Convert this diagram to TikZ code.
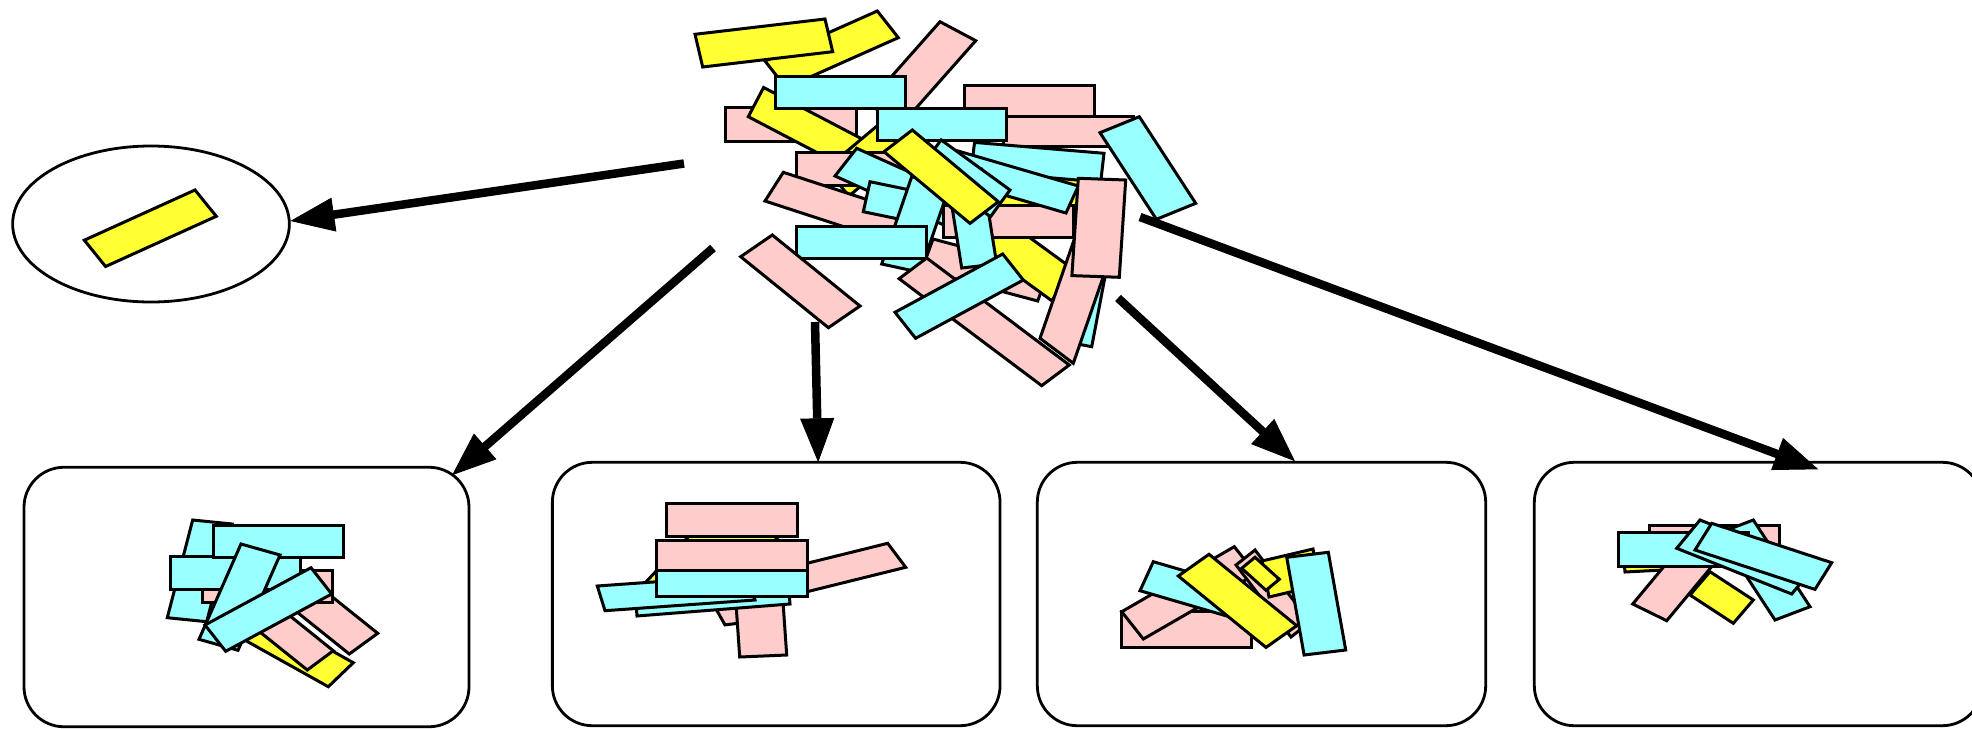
\documentclass[tikz,border=0pt]{standalone}
\usetikzlibrary{arrows.meta,calc,shapes.geometric}
\definecolor{pk}{HTML}{FFCCCC}
\definecolor{cy}{HTML}{99FFFF}
\definecolor{ye}{HTML}{FFFF33}
\tikzset{
  stk/.style={draw=black,line width=3pt,line join=miter},
  frame/.style={draw=black,line width=2.8pt,inner sep=0pt,outer sep=0pt},
  arr/.style={line width=8.5pt,-{Triangle[length=44pt,width=34pt,line width=1pt]}}
}
\newcommand\pg[4]{\draw[stk,fill=#1] (#2) -- (#3) -- (#4) -- ($(#2)+(#4)-(#3)$) -- cycle;}
\begin{document}
\begin{tikzpicture}[x=1pt,y=-1pt]
\useasboundingbox (0,0) rectangle (1972,728);
\clip (0,0) rectangle (1972,728);
\fill[white] (0,0) rectangle (1972,728);

% containers
\node[frame,ellipse,minimum width=276.7pt,minimum height=156pt] (el) at (151,224) {};
\node[frame,rounded corners=40pt,minimum width=445pt,minimum height=259.5pt] (b1) at (246.5,597) {};
\node[frame,rounded corners=40pt,minimum width=447.7pt,minimum height=263.4pt] (b2) at (776.2,594) {};
\node[frame,rounded corners=40pt,minimum width=448.4pt,minimum height=263.4pt] (b3) at (1261.5,594) {};
\node[frame,rounded corners=40pt,minimum width=448pt,minimum height=263.4pt] (b4) at (1758.3,594) {};

% ---- central heap ----
\pg{pk}{940,21.7}{975.7,40.7}{902.8,123.1}
\pg{ye}{765,61}{877.3,11}{898.3,37.7}
\pg{ye}{695,34.3}{825,19}{832.7,51.7}
\pg{pk}{725.7,107.7}{856.7,107.7}{856.7,141}
\pg{ye}{763.6,87.5}{748.3,116.7}{863.5,176.9}
\pg{ye}{826,168.8}{849,196}{925.6,131.7}
\pg{cy}{775.7,76}{905.7,76}{905.7,108.3}
\pg{pk}{964,85}{1094.3,85}{1094.3,116.7}
\pg{pk}{1003,116.7}{1133.3,116.7}{1133.3,146.7}
\pg{cy}{877.3,108.3}{1006.7,108.3}{1006.7,140}
\pg{cy}{1100,132.7}{1139.3,116.7}{1195.7,203.3}
\pg{ye}{990,178}{1085,178}{1085,205}
\pg{pk}{933,239}{921.7,270}{1037.7,301}
\pg{ye}{962.6,235.8}{985,205}{1074.1,269.9}
\pg{pk}{796,152.7}{926,152.7}{926,185.7}
\pg{cy}{835,176}{856.7,148.3}{975,201.6}
\pg{cy}{974.5,142.4}{1104,153.3}{1100.7,182}
\pg{pk}{943.3,205.5}{1073.3,205.5}{1073.3,237.5}
\pg{cy}{958,151}{1078.3,186}{1066,213}
\pg{pk}{783.3,172.3}{765,201}{900,245}
\pg{cy}{863.3,211.7}{870,181.7}{910,190}
\pg{cy}{881.7,264}{920,272.3}{950,185}
\pg{cy}{946.7,173.3}{981.7,169.3}{996.7,264}
\pg{cy}{1010,190}{990.5,216.7}{921.6,166.6}
\pg{ye}{884,151.7}{912.3,130}{998.3,201.7}
\pg{cy}{1111.3,243.6}{1091.7,346.7}{1058.3,340.3}
\pg{pk}{1082.5,215.5}{1040,338.3}{1073.3,363.3}
\pg{pk}{926.7,258}{1069.3,365}{1041.7,385.7}
\pg{cy}{796,226.7}{926.7,226.7}{926.7,258.3}
\pg{pk}{740.7,256.7}{772.3,235}{860,306}
\pg{cy}{895,312.3}{1002.7,254}{1023.3,280}
\pg{pk}{1078.3,178.3}{1125.7,180}{1119.3,277.3}

% ---- ellipse content ----
\pg{ye}{84.3,240.2}{195,190}{216.3,216.3}

% ---- box 1 ----
\pg{cy}{192.7,520}{167.3,617.7}{206.7,621.7}
\pg{ye}{214.8,623.3}{328.3,686.7}{353.3,662.7}
\pg{pk}{231.9,569.3}{333.3,650.7}{307.3,670}
\pg{pk}{276.3,552}{377.7,633.3}{349.3,654}
\pg{pk}{202.3,570}{332.7,570}{332.7,602.3}
\pg{cy}{170.7,556.7}{300,556.7}{300,589}
\pg{cy}{213.3,525}{343.3,525}{343.3,557.7}
\pg{cy}{280,555}{241,544}{199,639.3}
\pg{cy}{205,625}{311,567.7}{331.7,594}

% ---- box 2 ----
\pg{ye}{645,583}{690,535}{780,535}
\pg{pk}{887.7,543.3}{905.7,567.3}{779.6,598.5}
\pg{pk}{681.7,548.3}{726.7,542.7}{770,619.3}
\pg{pk}{656.7,540.7}{807.7,540.7}{807.7,573}
\pg{pk}{666.7,503.3}{797.7,503.3}{797.7,536.7}
\pg{pk}{734,575}{781,573}{786.7,655}
\pg{cy}{635,591}{637,616}{790,604}
\pg{cy}{597.3,586}{605,610.7}{755,600}
\pg{cy}{656.7,570}{807.7,570}{807.7,596.7}

% ---- box 3 ----
\pg{pk}{1121.7,611.7}{1251.7,611.7}{1251.7,647.3}
\pg{pk}{1121.7,611.7}{1143.3,639}{1255.9,574}
\pg{cy}{1153.3,561.7}{1140,590.7}{1264.8,627.1}
\pg{pk}{1236,565}{1255,550}{1310,622}
\pg{ye}{1262,561}{1313,549}{1320,585}
\pg{ye}{1241.7,568.3}{1255,557.3}{1279.3,579.3}
\pg{ye}{1178.3,576}{1209,554.3}{1296.7,625.7}
\pg{cy}{1286.7,557.3}{1328.3,552.3}{1345.7,650}

% ---- box 4 ----
\pg{ye}{1623,550}{1700,546}{1702,568}
\pg{pk}{1649,525}{1779.3,525}{1779.3,560}
\pg{pk}{1632.7,604}{1666.7,620.7}{1730.7,543.7}
\pg{ye}{1690,595}{1710,571.7}{1753.3,600}
\pg{cy}{1753.3,520}{1810,606.7}{1775,620}
\pg{cy}{1618.3,532.7}{1748.3,532.7}{1748.3,566}
\pg{cy}{1700,520}{1676.7,548.3}{1791.7,594}
\pg{cy}{1695,550}{1711.7,523.3}{1831.7,562.7}

% ---- connectors ----
\coordinate (s1) at (684,163.5);
\coordinate (s2) at (713,248);
\coordinate (s3) at (815,322);
\coordinate (s4) at (1118,298);
\coordinate (s5) at (1140,217);
\draw[arr] (s1) -- ($(el.east)+(1,-3)$);
\draw[arr] (s2) -- ($(b1.north east)+(-17,8)$);
\draw[arr] (s3) -- ($(b2.north)+(42,0)$);
\draw[arr] (s4) -- ($(b3.north)+(33.5,-1)$);
\draw[arr] (s5) -- ($(b4.north)+(60,7)$);
\end{tikzpicture}
\end{document}
